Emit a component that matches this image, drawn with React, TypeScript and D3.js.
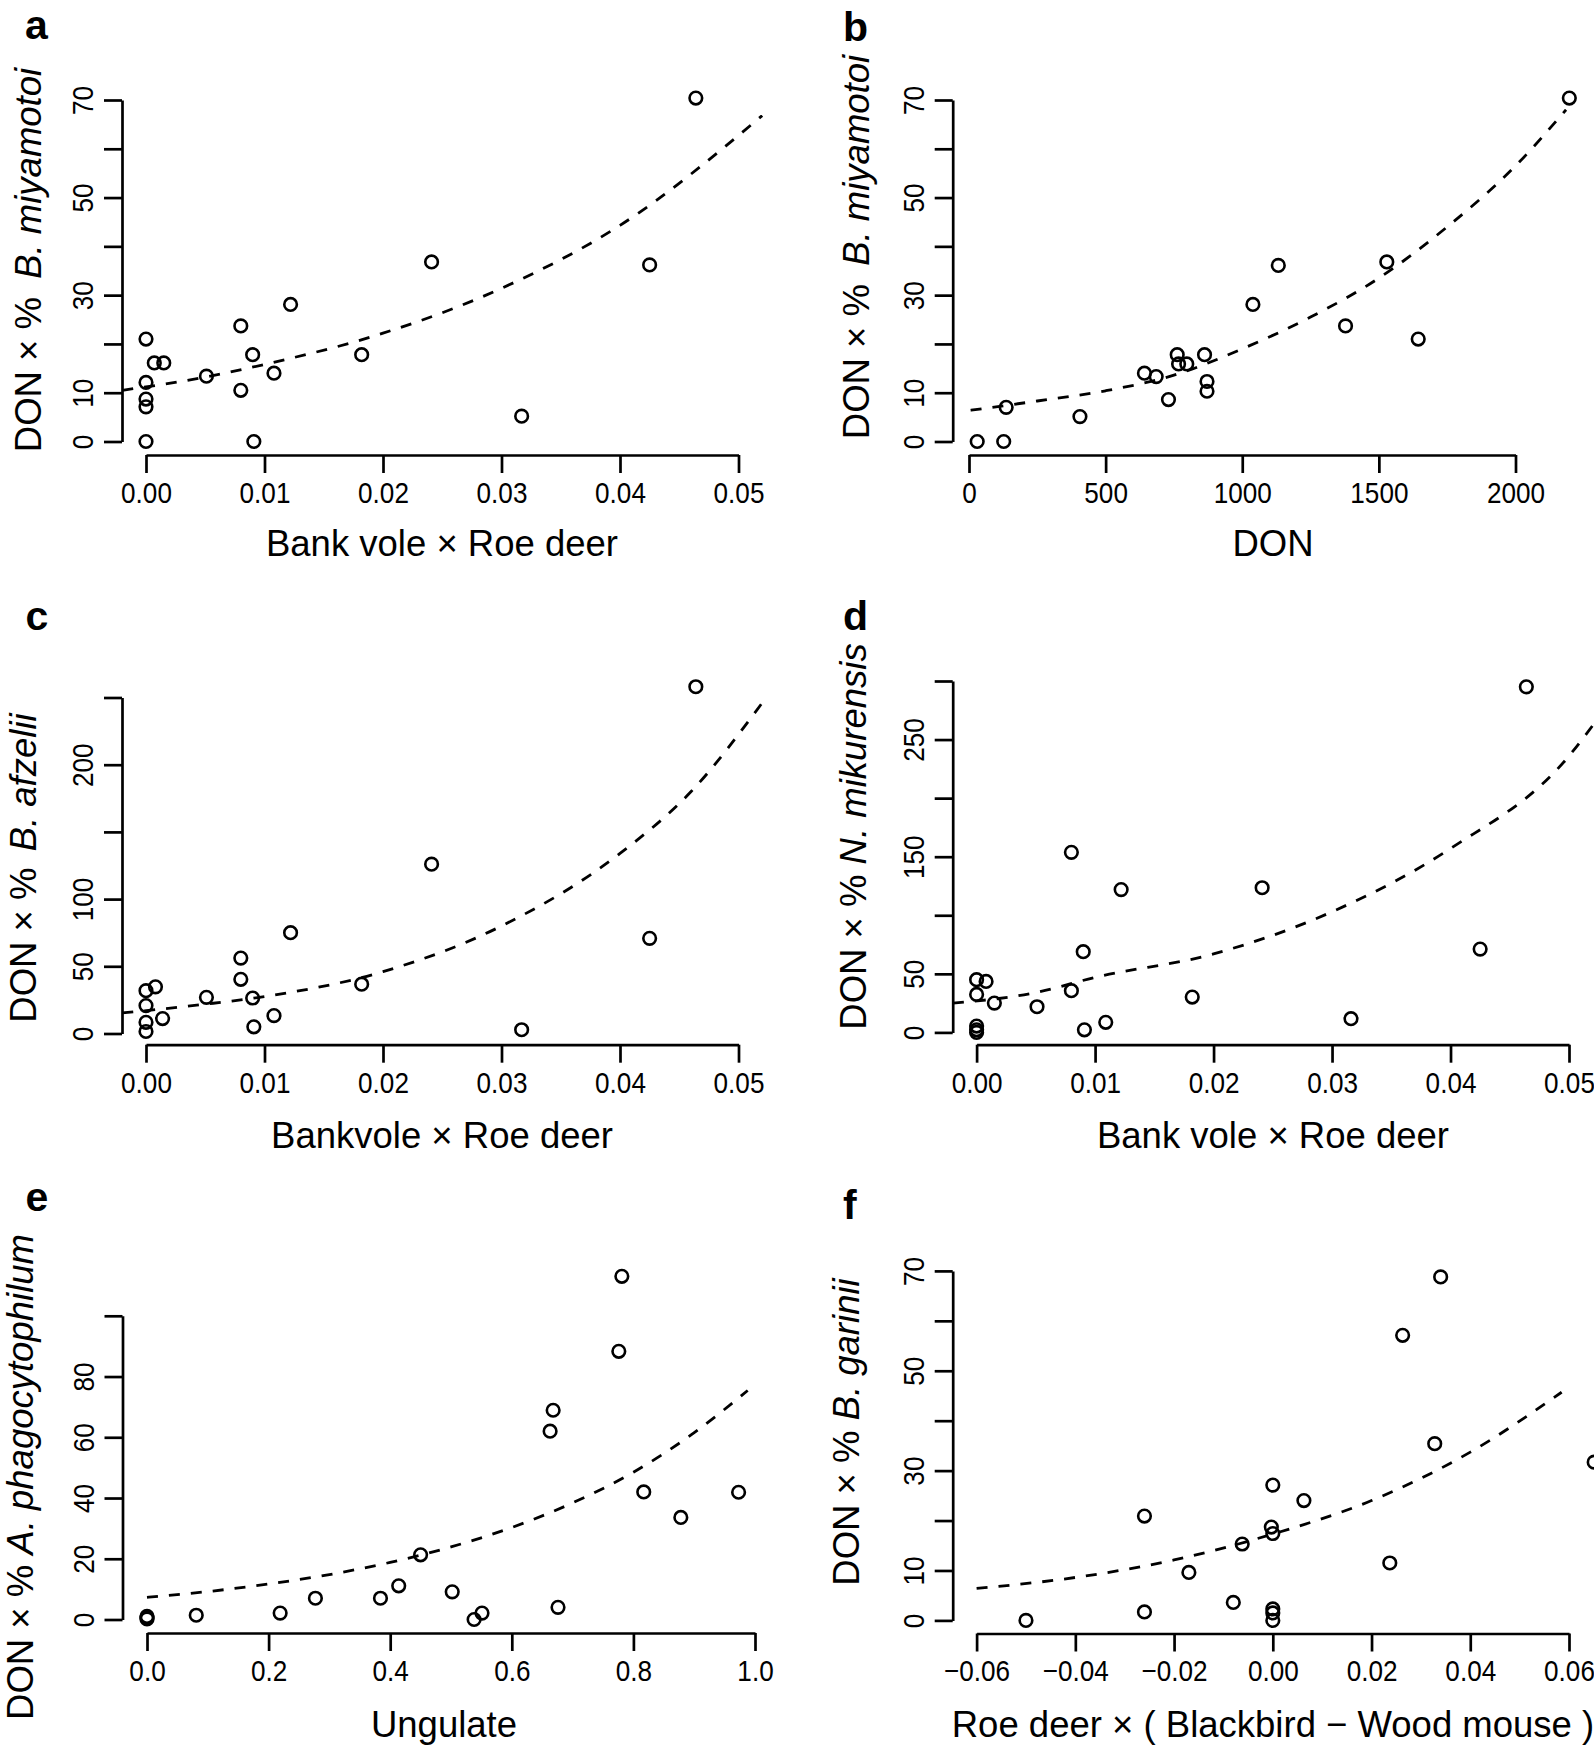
import { useEffect, useRef } from 'react';
import * as d3 from 'd3';

// a: DON x % B. miyamotoi vs bank vole x roe deer
const aX = [0, 0, 0, 0, 0, 0.0007, 0.0015, 0.0051, 0.008, 0.008, 0.009, 0.0091, 0.0108, 0.0122, 0.0182, 0.0241, 0.0317, 0.0425, 0.0464];
const aY = [21.0, 12.1, 8.7, 7.1, 0, 16.1, 16.1, 13.4, 23.7, 10.5, 17.8, 0, 14.0, 28.1, 17.8, 36.8, 5.2, 36.2, 70.4];
const aFitX = [-0.002, 0.005, 0.01, 0.02, 0.03, 0.04, 0.052];
const aFitY = [10.5, 13.2, 15.8, 22.2, 31.4, 44.3, 66.8];

// b: DON x % B. miyamotoi vs DON
const bX = [30, 127, 136, 406, 642, 685, 730, 762, 767, 797, 862, 871, 871, 1039, 1132, 1378, 1529, 1644, 2197];
const bY = [0, 0, 7.0, 5.1, 14.0, 13.3, 8.6, 17.8, 15.9, 15.9, 17.8, 12.3, 10.3, 28.1, 36.1, 23.7, 36.8, 21.0, 70.4];
const bFitX = [6, 250, 500, 750, 1000, 1250, 1500, 1750, 2000, 2185];
const bFitY = [6.4, 8.3, 10.4, 13.6, 19.0, 25.5, 33.5, 44, 56.5, 68];

// c: DON x % B. afzelii
const cX = [0, 0, 0, 0, 0.0008, 0.0014, 0.0051, 0.008, 0.008, 0.009, 0.0091, 0.0108, 0.0122, 0.0182, 0.0241, 0.0317, 0.0425, 0.0464];
const cY = [31.9, 20.8, 8.3, 1.5, 34.7, 11.1, 26.9, 56.1, 40.3, 26.4, 5.0, 13.3, 75, 36.7, 126, 2.8, 70.8, 258];
const cFitX = [-0.002, 0.005, 0.01, 0.02, 0.03, 0.04, 0.046, 0.052];
const cFitY = [15.3, 21.8, 27.5, 46, 80, 134, 180, 246];

// d: DON x % N. mikurensis
const dX = [0, 0, 0, 0, 0, 0.0008, 0.0015, 0.0051, 0.008, 0.008, 0.009, 0.0091, 0.0109, 0.0122, 0.0182, 0.0241, 0.0316, 0.0425, 0.0464];
const dY = [45, 32.4, 5.4, 2.2, 0, 43.5, 25, 21.9, 153.7, 35.6, 68.9, 2.2, 8.6, 121.9, 30.2, 123.5, 11.7, 71.1, 295];
const dFitX = [-0.002, 0.005, 0.01, 0.02, 0.03, 0.04, 0.05, 0.052];
const dFitY = [25, 34, 47, 67, 103, 157, 236, 262];

// e: DON x % A. phagocytophilum vs ungulate
const eX = [0, 0, 0, 0.081, 0.219, 0.277, 0.384, 0.414, 0.45, 0.502, 0.538, 0.551, 0.663, 0.668, 0.676, 0.776, 0.781, 0.817, 0.878, 0.973];
const eY = [0.2, 0.6, 1.0, 1.4, 2.1, 7.0, 7.0, 11.1, 21.3, 9.1, 0, 2.1, 62, 68.9, 4.0, 88.3, 113, 42, 33.6, 41.9];
const eFitX = [0, 0.1, 0.2, 0.3, 0.4, 0.5, 0.6, 0.7, 0.8, 0.9, 0.988];
const eFitY = [7.3, 9.2, 11.7, 14.8, 18.8, 23.9, 30.3, 38.4, 48.5, 61.5, 75.4];

// f: DON x % B. garinii
const fX = [-0.05, -0.026, -0.026, -0.017, -0.008, -0.0062, -0.0003, 0, 0, 0, 0, 0, 0.0063, 0.0237, 0.0263, 0.0328, 0.034, 0.0651];
const fY = [0, 20.9, 1.7, 9.6, 3.6, 15.3, 18.7, 17.4, 27.1, 2.3, 1.5, 0, 24.0, 11.5, 57.1, 35.4, 68.8, 31.7];
const fFitX = [-0.06, -0.04, -0.02, 0, 0.02, 0.04, 0.0585];
const fFitY = [6.4, 8.6, 12.1, 17.3, 24, 33.7, 45.7];

const vole01 = [0, 0.01, 0.02, 0.03, 0.04, 0.05];
const donTicks = [0, 500, 1000, 1500, 2000];
const ungulateTicks = [0, 0.2, 0.4, 0.6, 0.8, 1.0];
const roeTicks = [-0.06, -0.04, -0.02, 0, 0.02, 0.04, 0.06];
const y70Ticks = [0, 10, 20, 30, 40, 50, 60, 70];
const y70Labels = [0, 10, 30, 50, 70];
const y250Ticks = [0, 50, 100, 150, 200, 250];
const y250Labels = [0, 50, 100, 200];
const y300Ticks = [0, 50, 100, 150, 200, 250, 300];
const y300Labels = [0, 50, 150, 250];
const y100Ticks = [0, 20, 40, 60, 80, 100];
const y100Labels = [0, 20, 40, 60, 80];

const FONT = "'Liberation Sans', Arial, Helvetica, sans-serif";

interface Panel {
  label: string;
  labelAt: [number, number];
  xs: number[];
  ys: number[];
  fitX: number[];
  fitY: number[];
  xDomain: [number, number];
  xRange: [number, number];
  yDomain: [number, number];
  yRange: [number, number];
  xTicks: number[];
  yTicks: number[];
  yLabels: number[];
  xFormat: (v: number) => string;
  yAxisX: number;
  xAxisY: number;
  xTitle: string;
  xTitleAt: [number, number];
  yTitle: string;
  yGap: number;
  yTitleAt: [number, number];
}

const panels: Panel[] = [
  {
    label: 'a', labelAt: [25, 39], xs: aX, ys: aY, fitX: aFitX, fitY: aFitY,
    xDomain: [0, 0.05], xRange: [146, 738.5], yDomain: [0, 70], yRange: [441.5, 100],
    xTicks: vole01, yTicks: y70Ticks, yLabels: y70Labels, xFormat: d3.format('.2f'),
    yAxisX: 122, xAxisY: 455, xTitle: 'Bank vole × Roe deer', xTitleAt: [442, 556],
    yTitle: 'B. miyamotoi', yGap: 8, yTitleAt: [41, 260],
  },
  {
    label: 'b', labelAt: [843, 41], xs: bX, ys: bY, fitX: bFitX, fitY: bFitY,
    xDomain: [0, 2000], xRange: [969, 1515.5], yDomain: [0, 70], yRange: [441.5, 100],
    xTicks: donTicks, yTicks: y70Ticks, yLabels: y70Labels, xFormat: d3.format('d'),
    yAxisX: 952.7, xAxisY: 455, xTitle: 'DON', xTitleAt: [1273, 556],
    yTitle: 'B. miyamotoi', yGap: 8, yTitleAt: [868.7, 247],
  },
  {
    label: 'c', labelAt: [25.6, 630], xs: cX, ys: cY, fitX: cFitX, fitY: cFitY,
    xDomain: [0, 0.05], xRange: [146, 738.5], yDomain: [0, 250], yRange: [1033.5, 697.5],
    xTicks: vole01, yTicks: y250Ticks, yLabels: y250Labels, xFormat: d3.format('.2f'),
    yAxisX: 122, xAxisY: 1044.7, xTitle: 'Bankvole × Roe deer', xTitleAt: [442, 1148],
    yTitle: 'B. afzelii', yGap: 6, yTitleAt: [36, 868],
  },
  {
    label: 'd', labelAt: [843, 630], xs: dX, ys: dY, fitX: dFitX, fitY: dFitY,
    xDomain: [0, 0.05], xRange: [976.6, 1569], yDomain: [0, 300], yRange: [1032.4, 681],
    xTicks: vole01, yTicks: y300Ticks, yLabels: y300Labels, xFormat: d3.format('.2f'),
    yAxisX: 952.7, xAxisY: 1044.7, xTitle: 'Bank vole × Roe deer', xTitleAt: [1273, 1148],
    yTitle: 'N. mikurensis', yGap: 0, yTitleAt: [866, 836.5],
  },
  {
    label: 'e', labelAt: [25.6, 1211], xs: eX, ys: eY, fitX: eFitX, fitY: eFitY,
    xDomain: [0, 1], xRange: [147, 755], yDomain: [0, 100], yRange: [1619.5, 1315.8],
    xTicks: ungulateTicks, yTicks: y100Ticks, yLabels: y100Labels, xFormat: d3.format('.1f'),
    yAxisX: 122.5, xAxisY: 1633, xTitle: 'Ungulate', xTitleAt: [444, 1737],
    yTitle: 'A. phagocytophilum', yGap: 0, yTitleAt: [33, 1477],
  },
  {
    label: 'f', labelAt: [843, 1219], xs: fX, ys: fY, fitX: fFitX, fitY: fFitY,
    xDomain: [-0.06, 0.06], xRange: [976.6, 1569], yDomain: [0, 70], yRange: [1620.4, 1270.9],
    xTicks: roeTicks, yTicks: y70Ticks, yLabels: y70Labels, xFormat: d3.format('.2f'),
    yAxisX: 952.7, xAxisY: 1633.5, xTitle: 'Roe deer × ( Blackbird − Wood mouse )', xTitleAt: [1273, 1737],
    yTitle: 'B. garinii', yGap: 0, yTitleAt: [858.5, 1432],
  },
];

function drawPanel(svg: d3.Selection<SVGSVGElement, unknown, null, undefined>, p: Panel) {
  const x = d3.scaleLinear().domain(p.xDomain).range(p.xRange);
  const y = d3.scaleLinear().domain(p.yDomain).range(p.yRange);
  const g = svg.append('g');

  const xa = g
    .append('g')
    .attr('transform', `translate(0,${p.xAxisY})`)
    .call(d3.axisBottom(x).tickValues(p.xTicks).tickFormat((v) => p.xFormat(+v)).tickSize(18).tickSizeOuter(0));
  xa.attr('font-family', FONT).attr('font-size', 30);
  xa.selectAll('path, line').attr('stroke', '#000').attr('stroke-width', 2.7);
  xa.selectAll('text').attr('y', 48).attr('dy', null).attr('fill', '#000').attr('transform', 'scale(0.87,1)');

  const ya = g
    .append('g')
    .attr('transform', `translate(${p.yAxisX},0)`)
    .call(
      d3
        .axisLeft(y)
        .tickValues(p.yTicks)
        .tickFormat((v) => (p.yLabels.includes(+v) ? String(v) : ''))
        .tickSize(18)
        .tickSizeOuter(0)
    );
  ya.attr('font-family', FONT).attr('font-size', 30);
  ya.selectAll('path, line').attr('stroke', '#000').attr('stroke-width', 2.7);
  ya.selectAll('text')
    .attr('x', null)
    .attr('dy', null)
    .attr('fill', '#000')
    .attr('text-anchor', 'middle')
    .attr('transform', 'translate(-29,0) rotate(-90) scale(0.87,1)');

  const line = d3
    .line<number>()
    .x((_, i) => x(p.fitX[i]))
    .y((v) => y(v))
    .curve(d3.curveMonotoneX);
  g.append('path')
    .attr('d', line(p.fitY))
    .attr('fill', 'none')
    .attr('stroke', '#000')
    .attr('stroke-width', 2.8)
    .attr('stroke-dasharray', '11 11');

  g.append('g')
    .selectAll('circle')
    .data(d3.range(p.xs.length))
    .join('circle')
    .attr('cx', (i) => x(p.xs[i]))
    .attr('cy', (i) => y(p.ys[i]))
    .attr('r', 6.3)
    .attr('fill', 'none')
    .attr('stroke', '#000')
    .attr('stroke-width', 2.6);

  g.append('text')
    .attr('x', p.labelAt[0])
    .attr('y', p.labelAt[1])
    .attr('font-family', FONT)
    .attr('font-weight', 'bold')
    .attr('font-size', 41)
    .text(p.label);

  g.append('text')
    .attr('x', p.xTitleAt[0])
    .attr('y', p.xTitleAt[1])
    .attr('text-anchor', 'middle')
    .attr('font-family', FONT)
    .attr('font-size', 36.5)
    .text(p.xTitle);

  const yt = g
    .append('text')
    .attr('transform', `translate(${p.yTitleAt[0]},${p.yTitleAt[1]}) rotate(-90)`)
    .attr('text-anchor', 'middle')
    .attr('font-family', FONT)
    .attr('font-size', 36.5);
  yt.append('tspan').text('DON × % ');
  yt.append('tspan').attr('dx', p.yGap).attr('font-style', 'italic').text(p.yTitle);
}

export default function App() {
  const ref = useRef<SVGSVGElement>(null);

  useEffect(() => {
    if (!ref.current) return;
    const svg = d3.select(ref.current);
    svg.selectAll('*').remove();
    panels.forEach((p) => drawPanel(svg, p));
  }, []);

  return (
    <svg
      ref={ref}
      width={1594}
      height={1749}
      style={{ position: 'absolute', left: 0, top: 0, background: '#fff' }}
    />
  );
}
